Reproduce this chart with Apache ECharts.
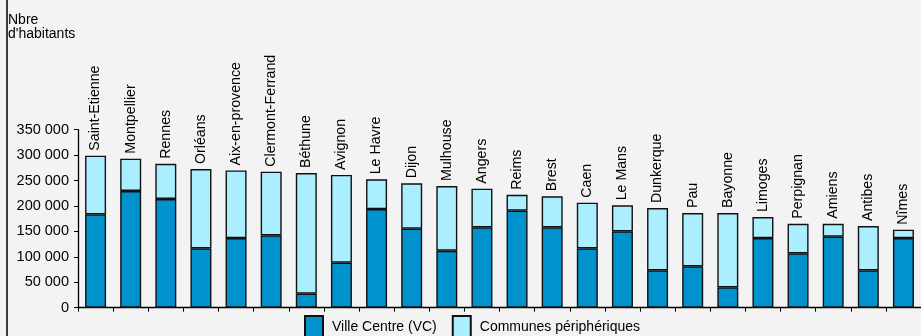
<!DOCTYPE html>
<html>
<head>
<meta charset="utf-8">
<script src="https://cdn.jsdelivr.net/npm/echarts@6/dist/echarts.min.js"></script>
<style>html,body{margin:0;padding:0;background:#f3f3f3}#c{width:921px;height:336px}</style>
</head>
<body>
<div id="c"></div>
<script>
const categories = ["Saint-Etienne","Montpellier","Rennes","Orléans","Aix-en-provence","Clermont-Ferrand","Béthune","Avignon","Le Havre","Dijon","Mulhouse","Angers","Reims","Brest","Caen","Le Mans","Dunkerque","Pau","Bayonne","Limoges","Perpignan","Amiens","Antibes","Nîmes"];
const villeCentre = [183600,229500,213700,116700,137000,142300,27500,88500,194000,155300,112000,158000,190700,158000,116700,150200,73500,81400,40000,137000,107000,139600,73500,137000];
const communesPeripheriques = [115300,63500,69300,156000,133000,125100,237300,172500,58500,89300,127300,76000,31300,61000,89800,51100,122500,104800,146200,41300,58000,25400,87100,16400];
const yTicks = [0,50000,100000,150000,200000,250000,300000,350000];
const seriesNames = ["Ville Centre (VC)","Communes périphériques"];
const FONT = "'Liberation Sans', Arial, sans-serif";

const chart = echarts.init(document.getElementById('c'), null, {renderer:'canvas'});
const fmt = v => String(v).replace(/\B(?=(\d{3})+(?!\d))/g, ' ');
chart.setOption({
  backgroundColor:'#f3f3f3',
  animation:false,
  textStyle:{fontFamily:FONT,color:'#000'},
  grid:{left:78,top:129.7,right:-2.7,bottom:28.3,containLabel:false},
  graphic:[
    {type:'line',shape:{x1:7,y1:0,x2:7,y2:336},style:{stroke:'#000',lineWidth:1.5}},
    {type:'text',left:8,top:13,style:{text:"Nbre\nd'habitants",font:"14px "+FONT,fill:'#000',lineHeight:14}}
  ],
  legend:{
    left:304,top:315,padding:0,itemWidth:18,itemHeight:22,itemGap:15,
    icon:'rect',
    textStyle:{fontFamily:FONT,fontSize:14,color:'#000',padding:[0,0,0,4]},
    data:seriesNames
  },
  xAxis:{
    type:'category',data:categories,
    axisLine:{lineStyle:{color:'#000',width:1.3}},
    axisTick:{show:true,interval:0,length:4,lineStyle:{color:'#000'}},
    axisLabel:{show:false}
  },
  yAxis:{
    type:'value',min:0,max:350000,interval:50000,
    axisLine:{show:true,lineStyle:{color:'#000',width:1.3}},
    axisTick:{show:true,length:4,lineStyle:{color:'#000'}},
    splitLine:{show:false},
    axisLabel:{fontFamily:FONT,fontSize:14.5,color:'#000',margin:9,formatter:v=>fmt(v)}
  },
  series:[
    {name:seriesNames[0],type:'bar',stack:'t',data:villeCentre,barWidth:21,
     itemStyle:{color:'#0092cc',borderColor:'#111',borderWidth:1.4}},
    {name:seriesNames[1],type:'bar',stack:'t',data:communesPeripheriques,barWidth:21,
     itemStyle:{color:'#aaeeff',borderColor:'#111',borderWidth:1.4},
     label:{show:true,position:'top',rotate:90,align:'left',verticalAlign:'middle',distance:5,
       fontFamily:FONT,fontSize:14.2,color:'#000',
       formatter:p=>categories[p.dataIndex]}}
  ]
});
</script>
</body>
</html>
